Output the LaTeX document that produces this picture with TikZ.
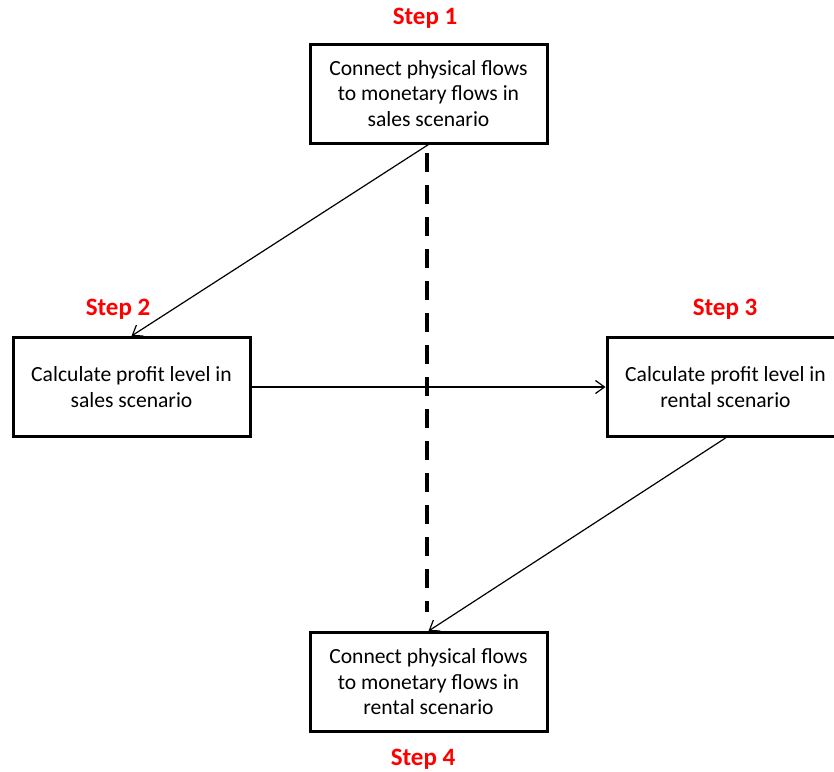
\documentclass[tikz,border=0pt]{standalone}
\usepackage{fontspec}
\setmainfont{Carlito}
\usetikzlibrary{arrows.meta}
\tikzset{
  stepbox/.style={draw, line width=3pt, minimum width=237pt, minimum height=99pt,
    align=center, inner sep=0pt, font=\fontsize{21.6}{25.5}\selectfont},
  steplabel/.style={text=red, font=\fontsize{25}{28}\selectfont\bfseries, inner sep=0pt},
  flow/.style={line width=1.2pt, -{Straight Barb[length=9pt,width=13pt,line width=1.2pt]}},
  divider/.style={line width=4pt, dash pattern=on 19pt off 13pt}
}
\begin{document}
\begin{tikzpicture}[x=1pt,y=-1pt]
  \useasboundingbox (0,0) rectangle (834,771);

  % process boxes
  \node[stepbox] (s1) at (428.5,93.5) {Connect physical flows\\to monetary flows in\\sales scenario};
  \node[stepbox] (s2) at (131.5,387) {Calculate profit level in\\sales scenario};
  \node[stepbox] (s3) at (725.5,387) {Calculate profit level in\\rental scenario};
  \node[stepbox] (s4) at (428.5,682) {Connect physical flows\\to monetary flows in\\rental scenario};

  % step labels
  \node[steplabel] (l1) at (425,18) {Step 1};
  \node[steplabel] (l2) at (118,309) {Step 2};
  \node[steplabel] (l3) at (725,309) {Step 3};
  \node[steplabel] (l4) at (423,759) {Step 4};

  % dashed divider between the two scenarios
  \coordinate (dtop) at (427,153);
  \coordinate (dbot) at (427,612);
  \draw[divider] (dtop) -- (dbot);

  % flow between steps
  \draw[flow] (s1.south) -- (s2.north);
  \draw[flow] (s2.east) -- (s3.west);
  \draw[flow] (s3.south) -- (s4.north);
\end{tikzpicture}
\end{document}
